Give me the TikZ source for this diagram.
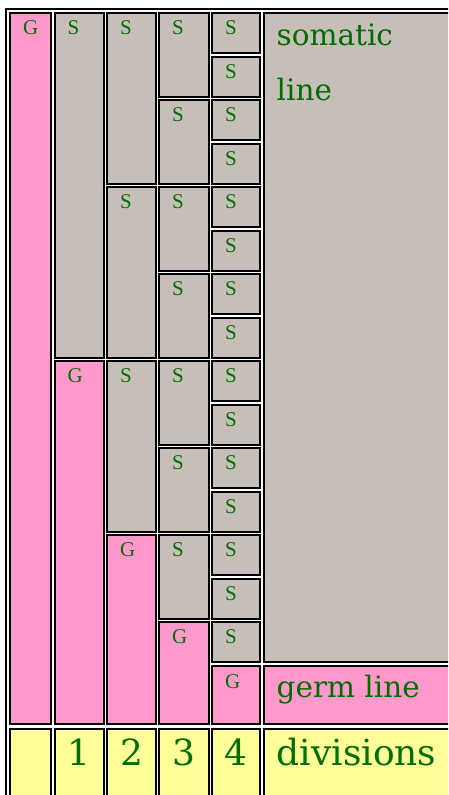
\documentclass[tikz,border=0pt]{standalone}
\usepackage{fontspec}
\newfontfamily\tagfamily{Liberation Serif}
\newfontfamily\bigfamily{DejaVu Serif}
\definecolor{germcol}{HTML}{FF99CC}
\definecolor{somacol}{HTML}{C8BEB9}
\definecolor{divcol}{HTML}{FFFF99}
\definecolor{leaf}{HTML}{006E00}
\begin{document}
\begin{tikzpicture}[x=1pt, y=-1pt,
  cell/.style={draw=black, line width=2pt, anchor=north west, outer sep=0pt, inner sep=0pt},
  germ/.style={cell, fill=germcol},
  soma/.style={cell, fill=somacol},
  divc/.style={cell, fill=divcol, minimum height=120pt},
  col1/.style={minimum width=41pt}, col2/.style={minimum width=49.5pt},
  col3/.style={minimum width=49pt}, col4/.style={minimum width=50pt},
  col5/.style={minimum width=48pt}, col6/.style={minimum width=205.5pt},
  h1/.style={minimum height=40pt}, h2/.style={minimum height=83.5pt},
  h4/.style={minimum height=170.5pt}, h8/.style={minimum height=344.5pt},
  tag/.style={anchor=base west, xshift=13pt, yshift=-21.5pt, inner sep=0pt, text=leaf,
    font=\tagfamily\fontsize{21}{24}\selectfont},
  big/.style={anchor=base west, xshift=13pt, yshift=-32pt, inner sep=0pt, text=leaf,
    font=\bigfamily\fontsize{29.5}{34}\selectfont},
  num/.style={anchor=base, yshift=-36.5pt, inner sep=0pt, text=leaf,
    font=\bigfamily\fontsize{36}{40}\selectfont}]
  \useasboundingbox (0,0) rectangle (448,795);
  \clip (0,0) rectangle (448,795);
  % table frame
  \draw[line width=2pt] (6,9) rectangle (480,850);
  % column 1
  \node[germ, col1, minimum height=711pt] (g1) at (10,13) {};
  % column 2
  \node[soma, col2, h8] (s2) at (54.5,13) {};
  \node[germ, col2, minimum height=363pt] (g2) at (54.5,361) {};
  % column 3
  \node[soma, col3, h4] (s3a) at (107,13) {};
  \node[soma, col3, h4] (s3b) at (107,187) {};
  \node[soma, col3, h4] (s3c) at (107,361) {};
  \node[germ, col3, minimum height=189pt] (g3) at (107,535) {};
  % column 4
  \node[soma, col4, h2] (s4a) at (159,13) {};
  \node[soma, col4, h2] (s4b) at (159,100) {};
  \node[soma, col4, h2] (s4c) at (159,187) {};
  \node[soma, col4, h2] (s4d) at (159,274) {};
  \node[soma, col4, h2] (s4e) at (159,361) {};
  \node[soma, col4, h2] (s4f) at (159,448) {};
  \node[soma, col4, h2] (s4g) at (159,535) {};
  \node[germ, col4, minimum height=102pt] (g4) at (159,622) {};
  % column 5
  \node[soma, col5, h1] (s5a) at (212,13) {};
  \node[soma, col5, h1] (s5b) at (212,56.5) {};
  \node[soma, col5, h1] (s5c) at (212,100) {};
  \node[soma, col5, h1] (s5d) at (212,143.5) {};
  \node[soma, col5, h1] (s5e) at (212,187) {};
  \node[soma, col5, h1] (s5f) at (212,230.5) {};
  \node[soma, col5, h1] (s5g) at (212,274) {};
  \node[soma, col5, h1] (s5h) at (212,317.5) {};
  \node[soma, col5, h1] (s5i) at (212,361) {};
  \node[soma, col5, h1] (s5j) at (212,404.5) {};
  \node[soma, col5, h1] (s5k) at (212,448) {};
  \node[soma, col5, h1] (s5l) at (212,491.5) {};
  \node[soma, col5, h1] (s5m) at (212,535) {};
  \node[soma, col5, h1] (s5n) at (212,578.5) {};
  \node[soma, col5, h1] (s5o) at (212,622) {};
  \node[germ, col5, minimum height=58.5pt] (g5) at (212,665.5) {};
  % column 6
  \node[soma, col6, minimum height=649pt] (soma) at (263.5,13) {};
  \node[germ, col6, minimum height=58.5pt] (germ) at (263.5,665.5) {};
  % divisions row
  \node[divc, col1] (d0) at (10,728.5) {};
  \node[divc, col2] (d1) at (54.5,728.5) {};
  \node[divc, col3] (d2) at (107,728.5) {};
  \node[divc, col4] (d3) at (159,728.5) {};
  \node[divc, col5] (d4) at (212,728.5) {};
  \node[divc, col6] (dv) at (263.5,728.5) {};
  % cell letters
  \node[tag] (g1t) at (g1.north west) {G};
  \node[tag] (s2t) at (s2.north west) {S};
  \node[tag] (g2t) at (g2.north west) {G};
  \node[tag] (s3at) at (s3a.north west) {S};
  \node[tag] (s3bt) at (s3b.north west) {S};
  \node[tag] (s3ct) at (s3c.north west) {S};
  \node[tag] (g3t) at (g3.north west) {G};
  \node[tag] (s4at) at (s4a.north west) {S};
  \node[tag] (s4bt) at (s4b.north west) {S};
  \node[tag] (s4ct) at (s4c.north west) {S};
  \node[tag] (s4dt) at (s4d.north west) {S};
  \node[tag] (s4et) at (s4e.north west) {S};
  \node[tag] (s4ft) at (s4f.north west) {S};
  \node[tag] (s4gt) at (s4g.north west) {S};
  \node[tag] (g4t) at (g4.north west) {G};
  \node[tag] (s5at) at (s5a.north west) {S};
  \node[tag] (s5bt) at (s5b.north west) {S};
  \node[tag] (s5ct) at (s5c.north west) {S};
  \node[tag] (s5dt) at (s5d.north west) {S};
  \node[tag] (s5et) at (s5e.north west) {S};
  \node[tag] (s5ft) at (s5f.north west) {S};
  \node[tag] (s5gt) at (s5g.north west) {S};
  \node[tag] (s5ht) at (s5h.north west) {S};
  \node[tag] (s5it) at (s5i.north west) {S};
  \node[tag] (s5jt) at (s5j.north west) {S};
  \node[tag] (s5kt) at (s5k.north west) {S};
  \node[tag] (s5lt) at (s5l.north west) {S};
  \node[tag] (s5mt) at (s5m.north west) {S};
  \node[tag] (s5nt) at (s5n.north west) {S};
  \node[tag] (s5ot) at (s5o.north west) {S};
  \node[tag, yshift=-1.5pt] (g5t) at (g5.north west) {G};
  % row names
  \node[big] (somat) at (soma.north west) {somatic};
  \node[big, yshift=-55pt] (linet) at (soma.north west) {line};
  \node[big, yshift=0.5pt] (germt) at (germ.north west) {germ line};
  \node[num, anchor=base west, xshift=13pt] (dvt) at (dv.north west) {divisions};
  \node[num] (n1) at (d1.north) {1};
  \node[num] (n2) at (d2.north) {2};
  \node[num] (n3) at (d3.north) {3};
  \node[num] (n4) at (d4.north) {4};
\end{tikzpicture}
\end{document}
